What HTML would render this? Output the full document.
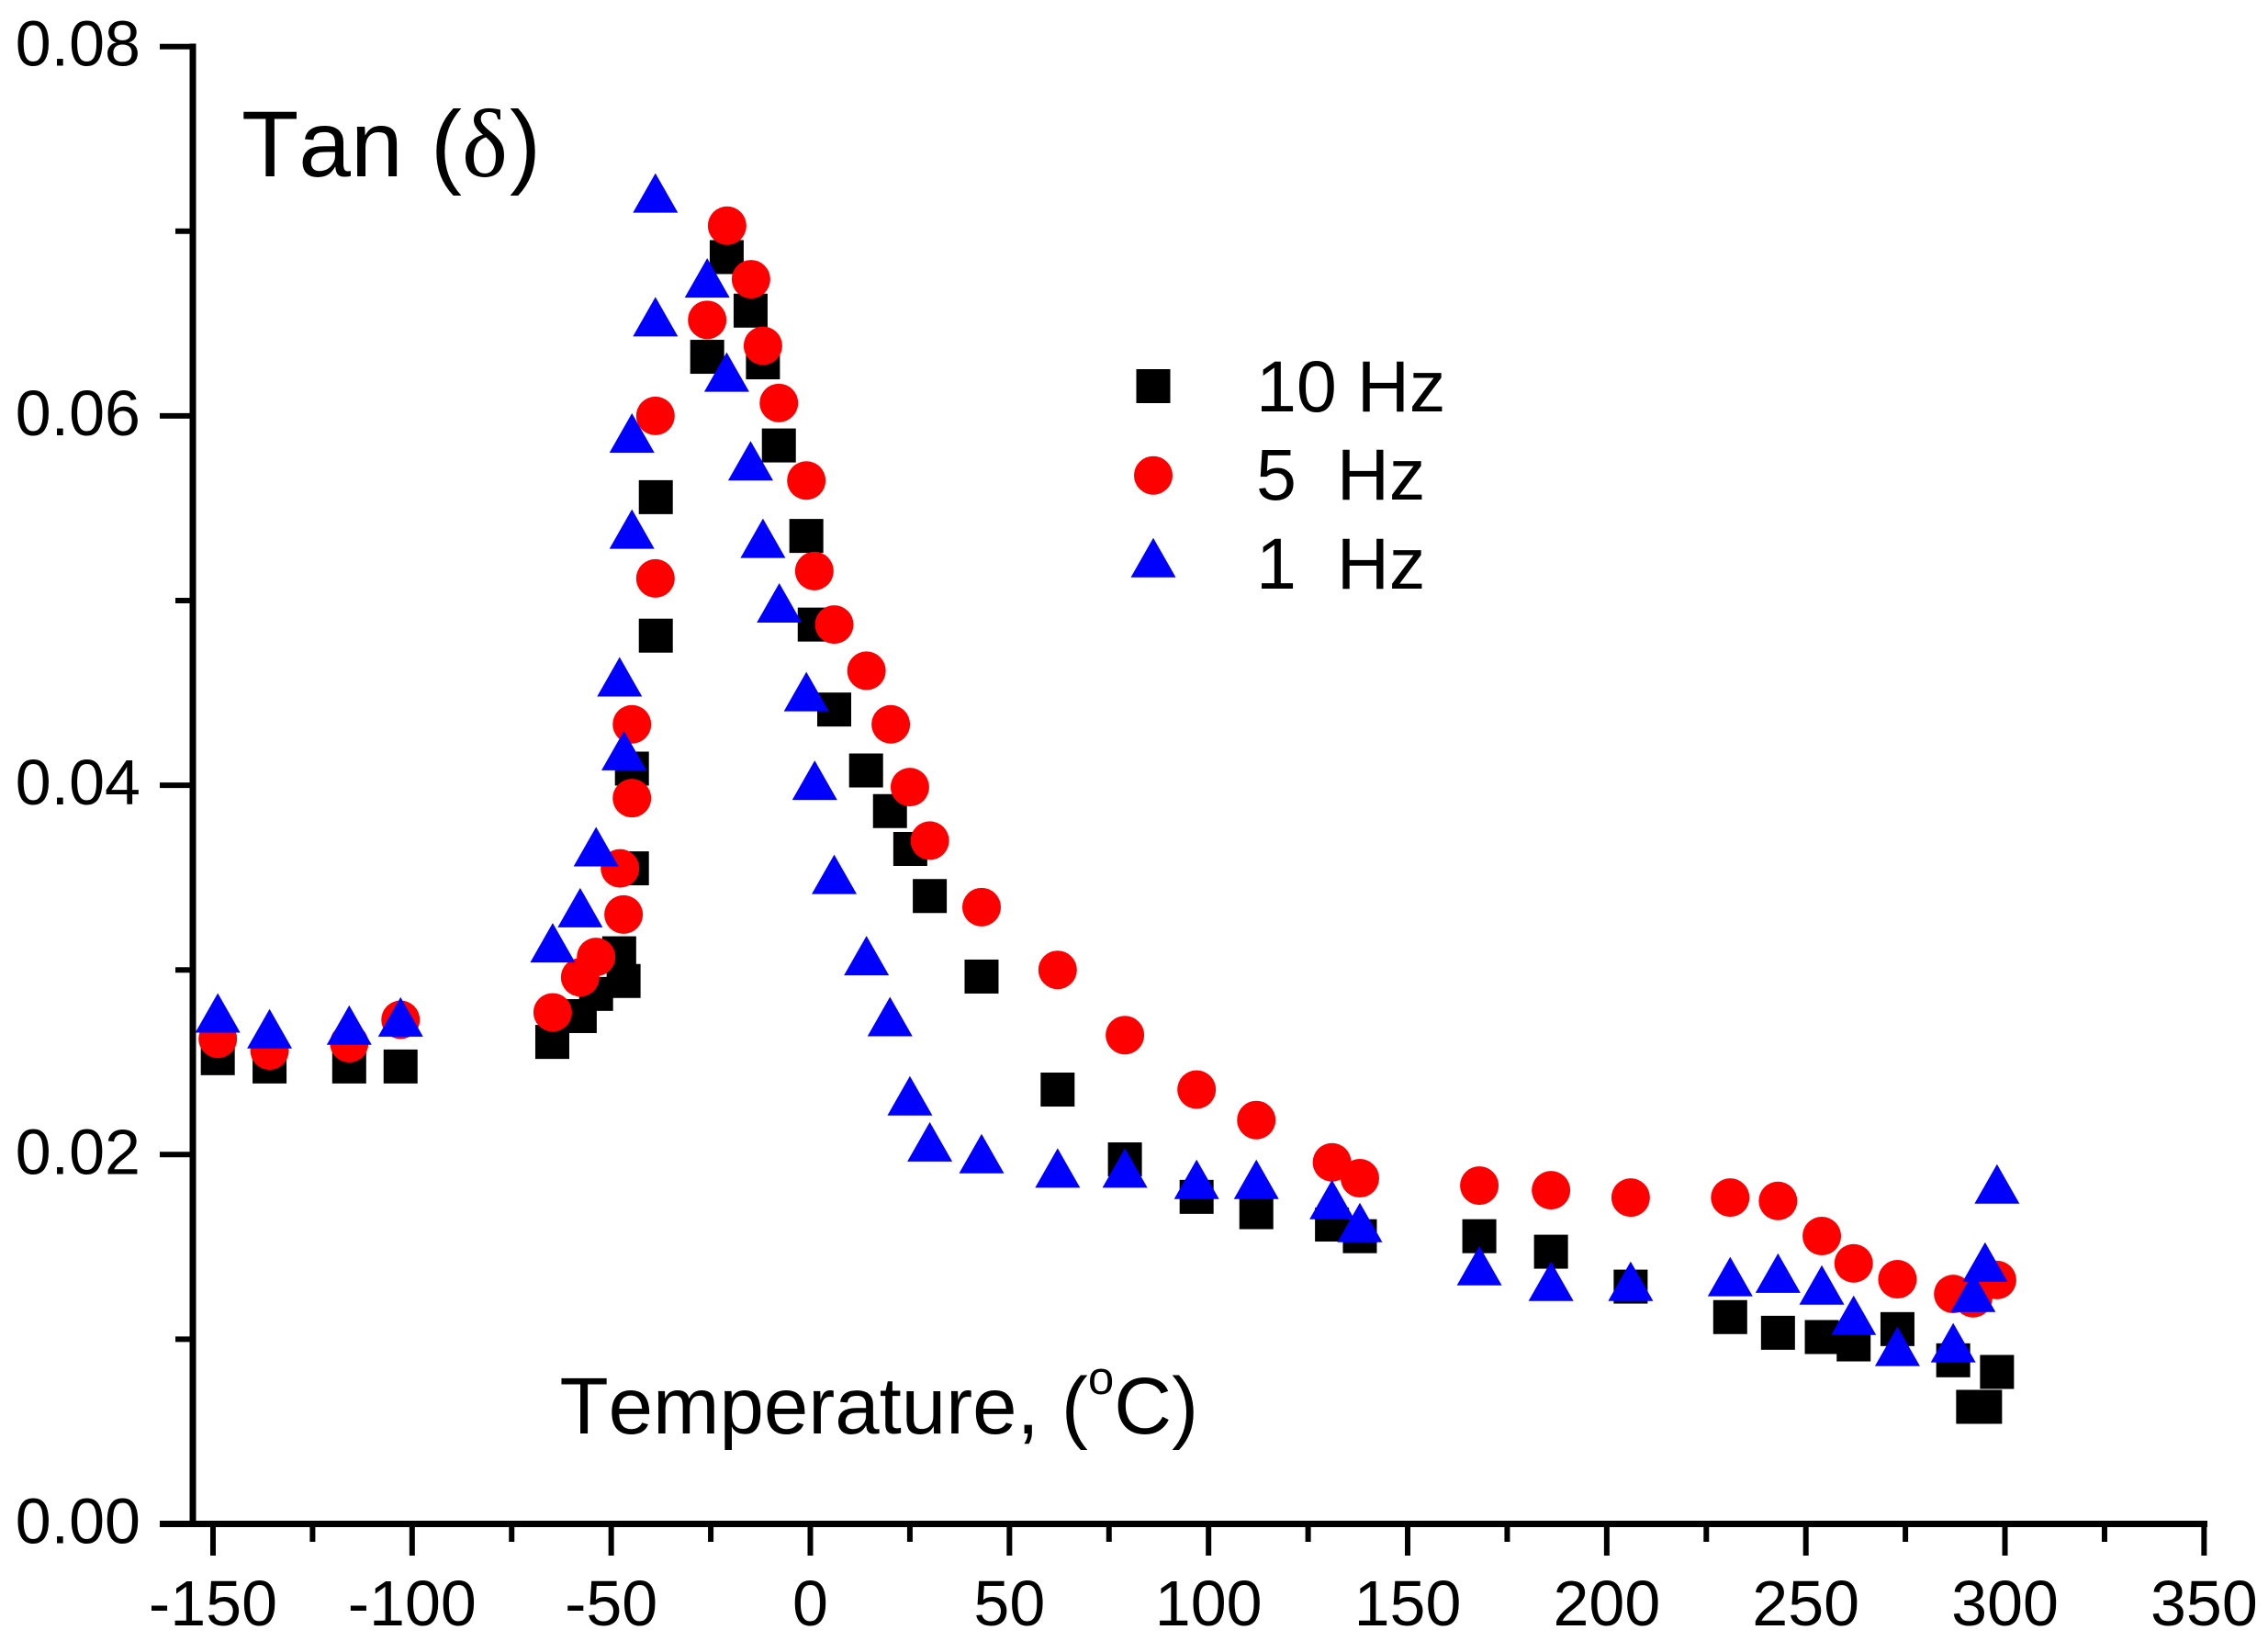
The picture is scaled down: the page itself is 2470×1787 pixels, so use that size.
<!DOCTYPE html>
<html lang="en">
<head>
<meta charset="utf-8">
<title>Tan delta vs temperature</title>
<style>
html,body{margin:0;padding:0;background:#fff;}
#chart{display:block;width:2470px;height:1787px;font-family:"Liberation Sans",Arial,sans-serif;font-kerning:none;fill:#000;}
text{white-space:pre;}
</style>
</head>
<body>
<svg id="chart" xmlns="http://www.w3.org/2000/svg" width="2470" height="1787" viewBox="0 0 2470 1787">
  <rect x="0" y="0" width="2470" height="1787" fill="#fff"/>
  <g id="axes"></g>
  <g id="marks"></g>
  <text x="263" y="192" font-size="102">Tan <tspan x="469">(</tspan><tspan x="503" font-family="'Liberation Serif',serif" font-size="106">δ</tspan><tspan x="555">)</tspan></text>
  <text x="609.5" y="1561" font-size="87">Temperature, (<tspan font-size="51" dy="-43">o</tspan><tspan dy="43">C)</tspan></text>
  <g>
    <rect x="1237.5" y="402" width="37" height="37" fill="#000"/>
    <circle cx="1256" cy="517.7" r="21" fill="#f00"/>
    <polygon points="1256,585.7 1280.5,628.7 1231.5,628.7" fill="#00f"/>
    <text x="1368" y="448" font-size="79">10 Hz</text>
    <text x="1368" y="544" font-size="79">5  Hz</text>
    <text x="1368" y="641" font-size="79">1  Hz</text>
  </g>
</svg>
<script>
const xTickLabels = ["-150","-100","-50","0","50","100","150","200","250","300","350"];
const xMinorTicks = [-125,-75,-25,25,75,125,175,225,275,325];
const yTickLabels = ["0.00","0.02","0.04","0.06","0.08"];
const yMinorTicks = [0.01,0.03,0.05,0.07];

const temps10Hz = [-148.8,-135.8,-115.8,-102.9,-64.8,-57.9,-53.8,-48,-46.9,-44.8,-44.8,-38.8,-38.8,-25.9,-21,-15,-11.9,-7.9,-1,1.1,6,14,20,25.1,30,43,62.1,79,97,112,131,138,168,186,206,231,243,254,262,273,287,292,295,298];
const tan10Hz = [0.02522,0.02477,0.02477,0.02477,0.0261,0.0275,0.0287,0.0309,0.0294,0.0409,0.0355,0.0556,0.0481,0.0632,0.0686,0.0657,0.0629,0.0584,0.0535,0.0487,0.0441,0.0408,0.0386,0.03655,0.034,0.02964,0.02352,0.01974,0.01771,0.01688,0.01621,0.01558,0.01558,0.01474,0.01285,0.0112,0.01035,0.01012,0.00972,0.01055,0.00886,0.00634,0.00634,0.00823];

const temps5Hz = [-148.8,-135.8,-115.8,-102.9,-64.7,-57.8,-53.8,-47.8,-46.9,-44.8,-44.8,-38.9,-38.9,-25.9,-20.9,-14.9,-11.9,-7.9,-1,1,6,14.1,20.2,25,30,43,62.1,79,97,112,131,138,168,186,206,231,243,254,262,273,287,292,298];
const tan5Hz = [0.02627,0.02563,0.02603,0.0273,0.0277,0.0296,0.0307,0.0355,0.033,0.0433,0.0393,0.06,0.0512,0.0652,0.0703,0.0674,0.0638,0.0607,0.0565,0.0516,0.0487,0.0462,0.0433,0.0399,0.037,0.0334,0.03,0.02647,0.02352,0.02187,0.01958,0.01872,0.01832,0.01807,0.01767,0.01767,0.01749,0.01559,0.01411,0.01325,0.01245,0.01222,0.01321];

const temps1Hz = [-148.8,-135.8,-115.8,-102.9,-64.7,-57.8,-53.8,-47.9,-46.8,-44.8,-44.8,-38.9,-38.9,-25.9,-21,-15,-11.9,-7.8,-1,1.1,6,14.1,20,25,30,43,62.1,79,97,112,131,138,168,186,206,231,243,254,262,273,287,292,295,298];
const tan1Hz = [0.0273,0.02644,0.02664,0.02708,0.0311,0.033,0.0363,0.0455,0.0415,0.0587,0.0535,0.0717,0.065,0.0671,0.062,0.0572,0.053,0.0495,0.0447,0.0399,0.0348,0.0304,0.0271,0.02281,0.02032,0.01968,0.0189,0.0189,0.01829,0.01829,0.01719,0.01595,0.01361,0.01277,0.01277,0.01302,0.01321,0.01257,0.01093,0.00924,0.00944,0.01217,0.01381,0.01804];

const NS = "http://www.w3.org/2000/svg";
function xScale(t){ return 882.5 + t * 4.3368; }
function yScale(v){ return 1659.5 - v * 20110; }

const axes = document.getElementById("axes");
const marks = document.getElementById("marks");

function axisLine(x1,y1,x2,y2,w){
  const l = document.createElementNS(NS,"line");
  l.setAttribute("x1",x1);
  l.setAttribute("y1",y1);
  l.setAttribute("x2",x2);
  l.setAttribute("y2",y2);
  l.setAttribute("stroke","#000");
  l.setAttribute("stroke-width",w);
  axes.appendChild(l);
  return l;
}
function tickText(str,x,y,anchor){
  const t = document.createElementNS(NS,"text");
  t.setAttribute("x",x);
  t.setAttribute("y",y);
  t.setAttribute("font-size",70);
  t.setAttribute("text-anchor",anchor);
  t.textContent = str;
  axes.appendChild(t);
  return t;
}

const yAxisLine = axisLine(210,47.5,210,1662,7);


const xAxisLine = axisLine(174,1659.5,2404,1659.5,7);



xTickLabels.forEach(function(label){
  const v = parseFloat(label);
  const tick = axisLine(xScale(v),1660,xScale(v),1694,6);
  
  
  const text = tickText(label,xScale(v),1770,"middle");
  
  
});
xMinorTicks.forEach(function(v){
  const tick = axisLine(xScale(v),1660,xScale(v),1679,6);
  
  
});
yTickLabels.forEach(function(label){
  const v = parseFloat(label);
  const tick = axisLine(174,yScale(v),210,yScale(v),6);
  
  
  if (v === 0) { tick.setAttribute("stroke-width",0); }
  const text = tickText(label,153,yScale(v)+21,"end");
  
  
});
yMinorTicks.forEach(function(v){
  const tick = axisLine(191,yScale(v),210,yScale(v),6);
  
  
});

temps10Hz.forEach(function(t,i){
  const r = document.createElementNS(NS,"rect");
  r.setAttribute("x",xScale(t)-18.5);
  r.setAttribute("y",yScale(tan10Hz[i])-18.5);
  r.setAttribute("width",37);
  r.setAttribute("height",37);
  r.setAttribute("fill","#000");
  
  
  marks.appendChild(r);
});
temps5Hz.forEach(function(t,i){
  const c = document.createElementNS(NS,"circle");
  c.setAttribute("cx",xScale(t));
  c.setAttribute("cy",yScale(tan5Hz[i]));
  c.setAttribute("r",21);
  c.setAttribute("fill","#f00");
  
  
  marks.appendChild(c);
});
temps1Hz.forEach(function(t,i){
  const p = document.createElementNS(NS,"polygon");
  const x = xScale(t), y = yScale(tan1Hz[i]);
  p.setAttribute("points",x+","+(y-29)+" "+(x+24.5)+","+(y+14)+" "+(x-24.5)+","+(y+14));
  p.setAttribute("fill","#00f");
  
  
  marks.appendChild(p);
});
</script>
</body>
</html>
